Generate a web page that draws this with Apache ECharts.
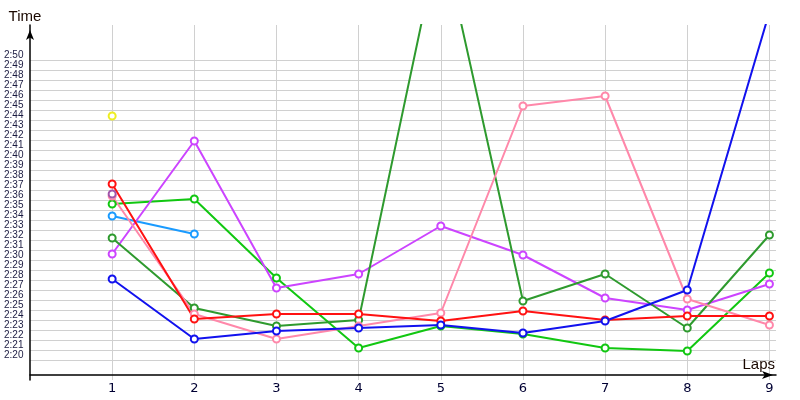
<!DOCTYPE html>
<html>
<head>
    <meta charset="utf-8">
    <title>Lap times</title>
    <script type="text/javascript" src="https://cdn.jsdelivr.net/npm/echarts@6.0.0/dist/echarts.min.js"></script>
    <style>
        html, body { margin: 0; padding: 0; background: #fff; }
    </style>
</head>
<body>
<div id="main" style="width: 800px;height:400px;"></div>
<script type="text/javascript">

    // laps on the x axis
    var laps = [1, 2, 3, 4, 5, 6, 7, 8, 9];

    // lap times in seconds (2:37.6 -> 157.6)
    var redTimes       = [157.6, 144.1, 144.6, 144.6, 143.9, 144.9, 144.0, 144.4, 144.4];
    var pinkTimes      = [156.4, 144.6, 142.1, 143.4, 144.7, 165.4, 166.4, 146.1, 143.5];
    var violetTimes    = [150.6, 161.9, 147.2, 148.6, 153.4, 150.5, 146.2, 145.0, 147.6];
    var greenTimes     = [155.6, 156.1, 148.2, 141.2, 143.4, 142.6, 141.2, 140.9, 148.7];
    var darkGreenTimes = [152.2, 145.2, 143.4, 144.0, 182.8, 145.9, 148.6, 143.2, 152.5];
    var blueTimes      = [148.1, 142.1, 142.9, 143.2, 143.5, 142.7, 143.9, 147.0, 174.8];
    var skyBlueTimes   = [154.4, 152.6];
    var yellowTimes    = [164.4];
    var mauveTimes     = [156.6];

    // y tick labels shown: 2:20 .. 2:50
    var firstLabel = 140;
    var lastLabel = 170;

    function pairs(values) {
        return values.map(function (v, i) { return [laps[i], v]; });
    }

    function fmtTime(v) {
        var s = v % 60;
        return Math.floor(v / 60) + ':' + (s < 10 ? '0' : '') + s;
    }

    var yMin = 138, yMax = 173.5;
    var xMin = 0, xMax = 9.08;

    // only the lines between 2:20 and 2:50 are drawn
    var yGridColors = [];
    for (var t = yMin; t <= Math.ceil(yMax); t++) {
        yGridColors.push(t >= firstLabel && t <= lastLabel ? '#d0d0d0' : 'rgba(0,0,0,0)');
    }
    var xGridColors = [];
    for (var k = 0; k <= 10; k++) {
        xGridColors.push(k >= 1 && k <= 9 ? '#d0d0d0' : 'rgba(0,0,0,0)');
    }

    function lapLine(name, color, values) {
        return {
            name: name,
            type: 'line',
            data: pairs(values),
            symbol: 'emptyCircle',
            symbolSize: 7,
            showAllSymbol: true,
            lineStyle: { color: color, width: 2 },
            itemStyle: { color: color, borderColor: color, borderWidth: 1.2 },
            emphasis: { disabled: true }
        };
    }

    var myChart = echarts.init(document.getElementById('main'));

    myChart.setOption({
        animation: false,
        grid: { left: 30, right: 24, top: 25, bottom: 20 },
        xAxis: {
            type: 'value',
            min: xMin,
            max: xMax,
            interval: 1,
            offset: -5,
            name: 'Laps',
            nameLocation: 'end',
            nameGap: -1,
            nameTextStyle: {
                align: 'right', verticalAlign: 'bottom', padding: [0, 0, 3, 0],
                fontSize: 15, color: '#1a0800', fontFamily: 'Liberation Sans'
            },
            axisLine: {
                onZero: false,
                lineStyle: { color: '#000', width: 1.5 },
                symbol: ['none', 'arrow'],
                symbolSize: [6, 11],
                symbolOffset: [0, -3]
            },
            axisTick: { show: false },
            axisLabel: {
                margin: 7,
                fontSize: 13,
                color: '#000033',
                fontFamily: 'DejaVu Sans',
                formatter: function (v) {
                    return (v >= 1 && v <= 9 && v % 1 === 0) ? String(v) : '';
                }
            },
            splitLine: { show: true, lineStyle: { color: xGridColors, width: 1 } }
        },
        yAxis: {
            type: 'value',
            min: yMin,
            max: yMax,
            interval: 1,
            name: 'Time',
            nameLocation: 'end',
            nameGap: 1,
            nameTextStyle: {
                padding: [0, 10, 0, 0],
                fontSize: 15, color: '#1a0800', fontFamily: 'Liberation Sans'
            },
            axisLine: {
                show: true,
                onZero: false,
                lineStyle: { color: '#000', width: 1.5 },
                symbol: ['none', 'arrow'],
                symbolSize: [6, 10],
                symbolOffset: [0, -5]
            },
            axisTick: { show: false },
            axisLabel: {
                align: 'left',
                verticalAlign: 'bottom',
                margin: 26,
                fontSize: 10,
                color: '#1a1a40',
                fontFamily: 'Liberation Sans',
                formatter: function (v) {
                    return (v >= firstLabel && v <= lastLabel && v % 1 === 0) ? fmtTime(v) : '';
                }
            },
            splitLine: { show: true, lineStyle: { color: yGridColors, width: 1 } }
        },
        series: [
            lapLine('green', '#11c711', greenTimes),
            lapLine('skyblue', '#1a9bff', skyBlueTimes),
            lapLine('violet', '#cc44ff', violetTimes),
            lapLine('darkgreen', '#2e9a2e', darkGreenTimes),
            lapLine('pink', '#ff88aa', pinkTimes),
            lapLine('red', '#ff1111', redTimes),
            lapLine('blue', '#1111ee', blueTimes),
            lapLine('yellow', '#eeee22', yellowTimes),
            lapLine('mauve', '#a055aa', mauveTimes)
        ]
    });

</script>
</body>
</html>
